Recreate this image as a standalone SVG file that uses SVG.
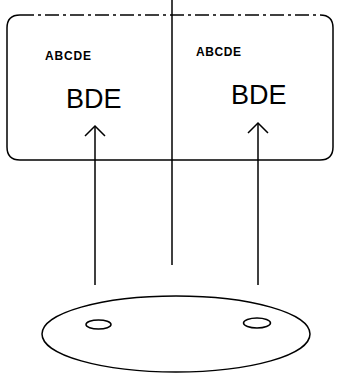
<svg xmlns="http://www.w3.org/2000/svg" width="338" height="376" viewBox="0 0 338 376">
<defs>
<style>
.ln{stroke:#000;stroke-width:1.5;fill:none}
.sm{font-family:"Liberation Sans",Arial,sans-serif;font-size:12px;font-weight:bold;fill:#000}
.lg{font-family:"Liberation Sans",Arial,sans-serif;font-size:27px;fill:#000}
</style>
<marker id="open" markerWidth="14" markerHeight="22" refX="12" refY="11" orient="auto" markerUnits="userSpaceOnUse">
<path d="M2,1 L12,11 L2,21" fill="none" stroke="#000" stroke-width="1.5"/>
</marker>
</defs>
<rect width="338" height="376" fill="#fff"/>
<g id="box">
<path class="ln" d="M20,15 Q7,15 7,28 L7,147 Q7,160 20,160 L320,160 Q333,160 333,147 L333,28 Q333,15 320,15"/>
<line class="ln" x1="20" y1="15" x2="320" y2="15" stroke-dasharray="14 4 3 4"/>
<text class="sm" x="45" y="60" textLength="46">ABCDE</text>
<text class="sm" x="196" y="56" textLength="45">ABCDE</text>
<text class="lg" x="66" y="108">BDE</text>
<text class="lg" x="231" y="104">BDE</text>
</g>
<g id="disk">
<ellipse class="ln" cx="176" cy="334" rx="134" ry="38"/>
<ellipse class="ln" cx="98.5" cy="324.5" rx="12.5" ry="4.5"/>
<ellipse class="ln" cx="257" cy="323" rx="13.5" ry="5"/>
</g>
<g id="connectors">
<line class="ln" x1="172" y1="0" x2="172" y2="265"/>
<line class="ln" x1="95" y1="285" x2="95" y2="126" marker-end="url(#open)"/>
<line class="ln" x1="258" y1="285" x2="258" y2="123" marker-end="url(#open)"/>
</g>
</svg>
